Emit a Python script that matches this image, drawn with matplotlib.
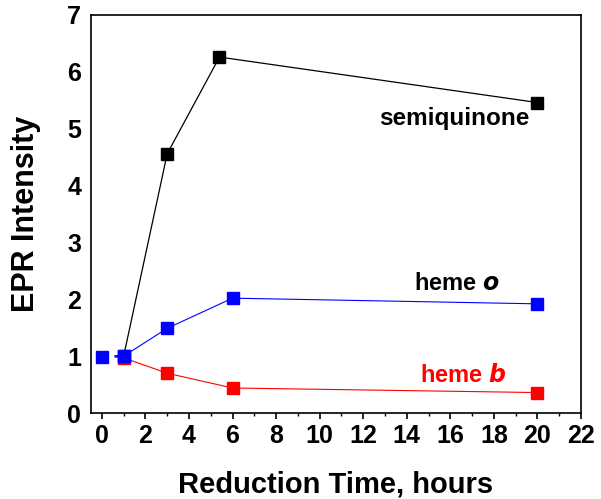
import matplotlib
matplotlib.use("Agg")
import matplotlib.pyplot as plt
from matplotlib.ticker import MultipleLocator

plt.rcParams['font.family'] = ['Liberation Sans', 'DejaVu Sans']

# Data
semi_x = [1, 3, 5.4, 20]
semi_y = [1.0, 4.56, 6.26, 5.46]

hemeo_x = [0, 1, 3, 6, 20]
hemeo_y = [0.99, 1.0, 1.49, 2.02, 1.92]

hemeb_x = [1, 3, 6, 20]
hemeb_y = [0.97, 0.70, 0.44, 0.36]

x_ticks = list(range(0, 23, 2))
y_ticks = list(range(0, 8))

fig = plt.figure(figsize=(6.01, 4.99), dpi=100)
ax = fig.add_axes([0.1514, 0.1723, 0.8153, 0.7977])

ms = 8.3
ax.plot(hemeb_x, hemeb_y, '-', color='#ff0000', lw=0.8, marker='s', ms=ms,
        mfc='#ff0000', mec='#ff0000', zorder=2)
ax.plot(semi_x, semi_y, '-', color='black', lw=0.9, marker='s', ms=ms,
        mfc='black', mec='black', zorder=3)
ax.plot(hemeo_x[:2], hemeo_y[:2], '--', color='#0000ff', lw=1.8,
        dashes=(2.5, 2.5), zorder=3)
ax.plot(hemeo_x[1:], hemeo_y[1:], '-', color='#0000ff', lw=0.8, zorder=3)
ax.plot(hemeo_x, hemeo_y, linestyle='none', marker='s', ms=ms,
        mfc='#0000ff', mec='#0000ff', zorder=4)

ax.set_xlim(-0.5, 22)
ax.set_ylim(0, 7)
ax.set_xticks(x_ticks)
ax.set_yticks(y_ticks)
ax.xaxis.set_minor_locator(MultipleLocator(1))

for s in ax.spines.values():
    s.set_linewidth(1.2)

ax.tick_params(axis='x', which='major', direction='out', length=4, width=1.2,
               labelsize=18, pad=4)
ax.tick_params(axis='x', which='minor', direction='out', length=2.5, width=1.0)
ax.tick_params(axis='y', which='both', length=0, labelsize=18, pad=7)
for lab in ax.get_xticklabels() + ax.get_yticklabels():
    lab.set_fontweight('bold')

ax.set_xlabel('Reduction Time, hours', fontsize=21, fontweight='bold', labelpad=16)
ax.set_ylabel('EPR Intensity', fontsize=22, fontweight='bold', labelpad=19)

ax.text(16.2, 5.18, 'semiquinone', fontsize=17.5, fontweight='bold',
        ha='center', va='center', color='black')
ax.text(16.3, 2.28, 'heme $\\boldsymbol{o}$', fontsize=17, fontweight='bold',
        ha='center', va='center', color='black')
ax.text(16.6, 0.66, 'heme $\\boldsymbol{b}$', fontsize=17, fontweight='bold',
        ha='center', va='center', color='#ff0000')

fig.savefig('out.png', dpi=100)
